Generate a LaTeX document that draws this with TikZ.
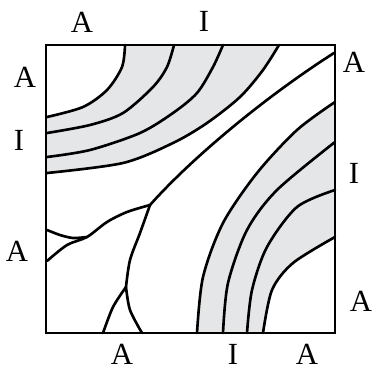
\documentclass[tikz,border=0pt]{standalone}
\usepackage{fontspec}
\setmainfont{Liberation Serif}
\usepackage{tikz}
\definecolor{band}{RGB}{229,230,232}
\tikzset{
	grenze/.style={line width=1.5pt, line join=round, line cap=round},
	lbl/.style={font=\fontsize{17.5}{20}\selectfont, inner sep=0pt}
}

\begin{document}
\begin{tikzpicture}[x=0.02cm, y=-0.02cm]

	\useasboundingbox (0,0) rectangle (372,369);

	% Baender
	\fill[band] plot[smooth] coordinates {(125,45) (122,67) (107,90) (83,107) (47,117)}
		-- (47,173) -- plot[smooth] coordinates {(47,173) (123,163) (173,143) (207,123) (240,97) (263,70) (279,45)} -- cycle;
	\fill[band] plot[smooth] coordinates {(197,333) (203,277) (223,223) (257,173) (297,130) (335,102)}
		-- (335,237) -- plot[smooth] coordinates {(335,237) (293,263) (272,290) (263,333)} -- cycle;

	% oben links
	\draw[grenze] plot[smooth] coordinates {(125,45) (122,67) (107,90) (83,107) (47,117)};
	\draw[grenze] plot[smooth] coordinates {(174,45) (167,67) (153,87) (123,113) (90,125) (47,133)};
	\draw[grenze] plot[smooth] coordinates {(223,45) (213,67) (197,93) (173,113) (140,133) (90,150) (47,157)};
	\draw[grenze] plot[smooth] coordinates {(279,45) (263,70) (240,97) (207,123) (173,143) (123,163) (47,173)};

	% unten rechts
	\draw[grenze] plot[smooth] coordinates {(197,333) (203,277) (223,223) (257,173) (297,130) (335,102)};
	\draw[grenze] plot[smooth] coordinates {(223,333) (228,283) (247,230) (277,190) (335,142)};
	\draw[grenze] plot[smooth] coordinates {(247,333) (252,290) (267,247) (297,207) (335,190)};
	\draw[grenze] plot[smooth] coordinates {(263,333) (272,290) (293,263) (335,237)};

	% Diagonale und Verzweigungen
	\coordinate (K) at (150,205);
	\coordinate (V) at (126,287);
	\draw[grenze] (334,53) .. controls (262,99) and (190,160) .. (K);
	\draw[grenze] plot[smooth] coordinates {(150,205) (127,212) (107,222) (87,237) (67,245) (47,261)};
	\draw[grenze] plot[smooth] coordinates {(47,230) (60,235) (73,238) (87,237)};
	\draw[grenze] plot[smooth] coordinates {(150,205) (140,233) (130,260) (126,287)};
	\draw[grenze] plot[smooth] coordinates {(126,287) (130,310) (142,333)};
	\draw[grenze] plot[smooth] coordinates {(126,287) (113,307) (103,333)};

	% Rahmen
	\draw[grenze, line cap=butt, line join=miter] (46,45) rectangle (335,333);

	% %%%%
	\node[lbl] (tA) at (82,22) {A};
	\node[lbl] (tI) at (204,21) {I};
	\node[lbl] (lA1) at (25,77) {A};
	\node[lbl] (lI) at (19,140) {I};
	\node[lbl] (lA2) at (17,251) {A};
	\node[lbl] (rA1) at (354,62) {A};
	\node[lbl] (rI) at (354,173) {I};
	\node[lbl] (rA2) at (361,301) {A};
	\node[lbl] (bA1) at (122,354) {A};
	\node[lbl] (bI) at (233,354) {I};
	\node[lbl] (bA2) at (307,354) {A};

\end{tikzpicture}
\end{document}
